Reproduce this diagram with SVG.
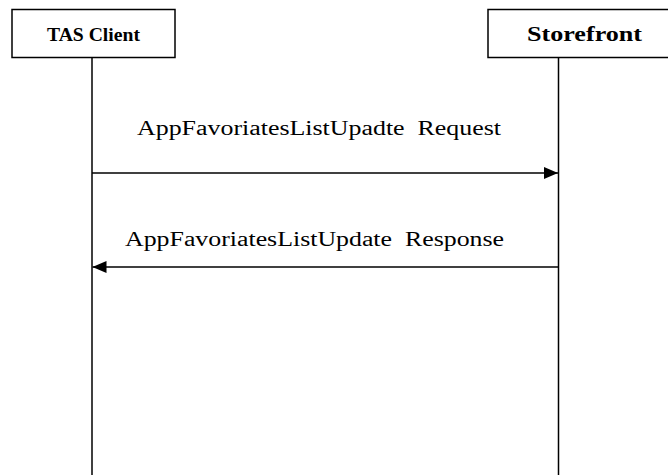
<svg xmlns="http://www.w3.org/2000/svg" width="668" height="475" viewBox="0 0 668 475">
<style>
.box{fill:#fff;stroke:#000;stroke-width:1.5}
.life{stroke:#000;stroke-width:1.5;fill:none}
.msg{stroke:#000;stroke-width:1.5;fill:none}
.t{font-family:"Liberation Serif","Times New Roman",Times,"DejaVu Serif",serif;fill:#000}
.h{font-weight:bold}
</style>
<defs>
<marker id="ah" viewBox="0 0 14 12" refX="14" refY="6" markerWidth="14" markerHeight="12" markerUnits="userSpaceOnUse" orient="auto">
<path d="M0,0 L14,6 L0,12 Z" fill="#000"/>
</marker>
</defs>
<rect width="668" height="475" fill="#fff"/>
<g id="tas-client">
<rect class="box" x="12" y="9.5" width="163" height="48"/>
<text class="t h" x="47" y="40.5" font-size="18" textLength="93" lengthAdjust="spacingAndGlyphs">TAS Client</text>
<line class="life" x1="92" y1="57.5" x2="92" y2="475"/>
</g>
<g id="storefront">
<rect class="box" x="488" y="9.5" width="185" height="48"/>
<text class="t h" x="527" y="41" font-size="21.5" textLength="115" lengthAdjust="spacingAndGlyphs">Storefront</text>
<line class="life" x1="558.5" y1="57.5" x2="558.5" y2="475"/>
</g>
<g id="connectors">
<line class="msg" x1="92" y1="173" x2="558" y2="173" marker-end="url(#ah)"/>
<text class="t" x="137" y="135" font-size="20" textLength="364" lengthAdjust="spacingAndGlyphs" xml:space="preserve">AppFavoriatesListUpadte  Request</text>
<line class="msg" x1="558.5" y1="267" x2="92.5" y2="267" marker-end="url(#ah)"/>
<text class="t" x="125" y="246" font-size="20" textLength="379" lengthAdjust="spacingAndGlyphs" xml:space="preserve">AppFavoriatesListUpdate  Response</text>
</g>
</svg>
